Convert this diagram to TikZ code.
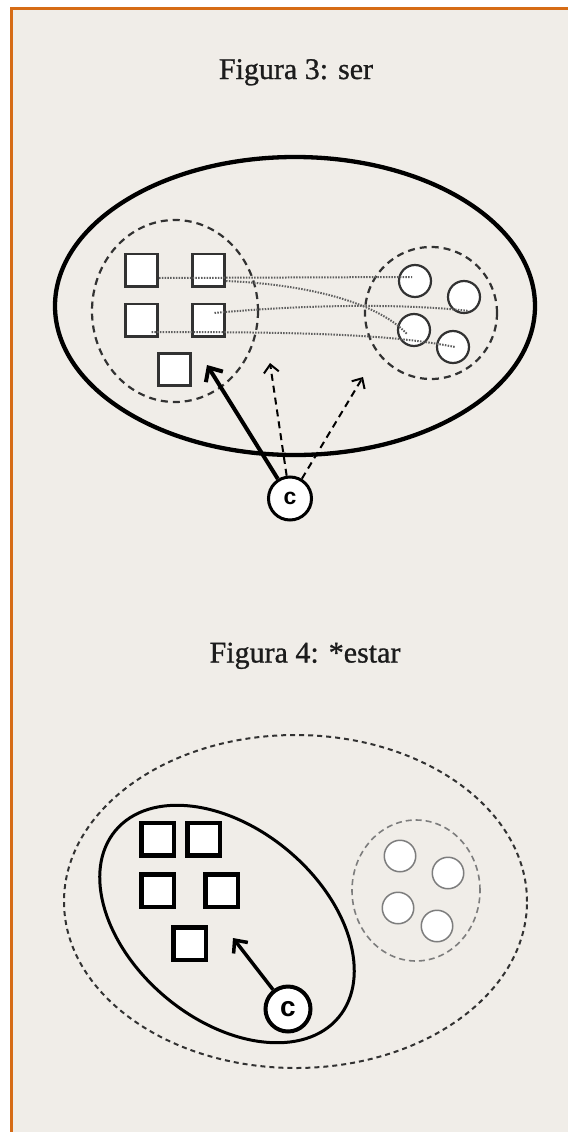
\documentclass[tikz,border=0pt]{standalone}
\usepackage{fontspec}
\setmainfont{Liberation Serif}
\setsansfont{Liberation Sans}
\newfontfamily\headfont[FakeBold=0.9]{Liberation Serif}
\usetikzlibrary{arrows.meta}

\definecolor{paper}{RGB}{240,237,232}
\definecolor{frameorange}{RGB}{214,108,22}
\definecolor{ink}{RGB}{28,28,28}
\definecolor{darkgrey}{RGB}{50,50,50}
\definecolor{softgrey}{RGB}{125,125,125}
\definecolor{linkgrey}{RGB}{95,95,95}

\tikzset{
  title/.style={font=\headfont\fontsize{30}{34}\selectfont, text=ink, inner sep=0pt, anchor=base},
  sqA/.style={draw=darkgrey, fill=white, line width=2.8pt, minimum size=32.2pt, inner sep=0pt},
  dotA/.style={circle, draw=darkgrey, fill=white, line width=2.2pt, minimum size=32pt, inner sep=0pt},
  sqB/.style={draw=black, fill=white, line width=4.5pt, minimum size=32.5pt, inner sep=0pt},
  dotB/.style={circle, draw=softgrey, fill=white, line width=1.5pt, minimum size=31.5pt, inner sep=0pt},
  cnode/.style={circle, draw=black, fill=white, inner sep=0pt, font=\sffamily\bfseries},
  link/.style={draw=linkgrey, line width=2pt, dash pattern=on 1.5pt off 1.3pt},
  bigring/.style={draw=black, line width=4.3pt},
  dashring/.style={draw=darkgrey, line width=2.2pt, dash pattern=on 7pt off 5pt},
  outerdash/.style={draw=darkgrey, line width=2pt, dash pattern=on 5pt off 4pt},
  greydash/.style={draw=softgrey, line width=1.6pt, dash pattern=on 6pt off 4pt},
  strongarrow/.style={draw=black, line width=4pt, -{Straight Barb[length=11pt,width=20pt]}},
  dasharrow/.style={draw=black, line width=2pt, dash pattern=on 7pt off 5pt, -{Straight Barb[length=8pt,width=15pt]}},
  midarrow/.style={draw=black, line width=3.5pt, -{Straight Barb[length=10pt,width=18pt]}},
}

\begin{document}
\begin{tikzpicture}[x=1pt,y=-1pt]
  \useasboundingbox (0,0) rectangle (568,1132);
  \fill[white] (0,0) rectangle (568,1132);
  \fill[paper] (11,8) rectangle (568,1132);
  \draw[frameorange, line width=2.7pt] (11.3,1132) -- (11.3,8.7) -- (568,8.7);

  % ---------- Figura 3 ----------
  \node[title] (t3) at (296,79) {Figura 3: ser};

  \draw[bigring] (295,306) ellipse [x radius=240pt, y radius=149pt];
  \draw[dashring] (175,311) ellipse [x radius=83pt, y radius=91pt];
  \draw[dashring] (431,313) ellipse [x radius=66pt, y radius=66pt];

  \node[sqA] (a1) at (141.5,270) {};
  \node[sqA] (a2) at (208.5,270) {};
  \node[sqA] (a3) at (141.5,320) {};
  \node[sqA] (a4) at (208.5,320) {};
  \node[sqA] (a5) at (174.5,369.5) {};

  \node[dotA] (o1) at (415,281) {};
  \node[dotA] (o2) at (464,297) {};
  \node[dotA] (o3) at (414,330) {};
  \node[dotA] (o4) at (453,347) {};

  % dotted links between the two sets
  \draw[link] ([yshift=-8pt]a1.east) -- ([xshift=-3pt,yshift=4pt]o1.center);
  \draw[link] ([yshift=-11pt]a2.east) .. controls (300,284) and (375,300) .. ([xshift=-7pt,yshift=-4pt]o3.center);
  \draw[link] ([xshift=6pt,yshift=7pt]a4.center) .. controls (300,305) and (400,303) .. ([xshift=5pt,yshift=-14pt]o2.center);
  \draw[link] ([xshift=10pt,yshift=-12pt]a3.center) .. controls (300,332) and (390,334) .. ([xshift=2pt,yshift=0pt]o4.center);

  \node[cnode, line width=3pt, minimum size=43pt, font=\sffamily\bfseries\fontsize{23}{23}\selectfont] (c3) at (290,498.5) {c};
  \coordinate (p1) at (207,365);
  \coordinate (p2) at (270,363);
  \coordinate (p3) at (363,377);
  \draw[strongarrow] (c3) -- (p1);
  \draw[dasharrow] (c3) -- (p2);
  \draw[dasharrow] (c3) -- (p3);

  % ---------- Figura 4 ----------
  \node[title] (t4) at (305,662.5) {Figura 4: *estar};

  \draw[outerdash] (295.5,901.5) ellipse [x radius=231.5pt, y radius=166.5pt];
  \draw[black, line width=3pt, rotate around={-40:(227,924)}] (227,924) ellipse [x radius=145.5pt, y radius=95.5pt];
  \draw[greydash] (416,890.5) ellipse [x radius=64pt, y radius=70.5pt];

  \node[sqB] (b1) at (157.5,839) {};
  \node[sqB] (b2) at (203.5,839) {};
  \node[sqB] (b3) at (157.5,890.5) {};
  \node[sqB] (b4) at (221.5,890.5) {};
  \node[sqB] (b5) at (189.5,943.5) {};

  \node[dotB] (q1) at (400,856) {};
  \node[dotB] (q2) at (448,873) {};
  \node[dotB] (q3) at (398,908) {};
  \node[dotB] (q4) at (437,926) {};

  \node[cnode, line width=4pt, minimum size=45pt, font=\sffamily\bfseries\fontsize{28}{28}\selectfont] (c4) at (288,1009) {c};
  \coordinate (p4) at (233,938);
  \draw[midarrow] (c4) -- (p4);
\end{tikzpicture}
\end{document}
